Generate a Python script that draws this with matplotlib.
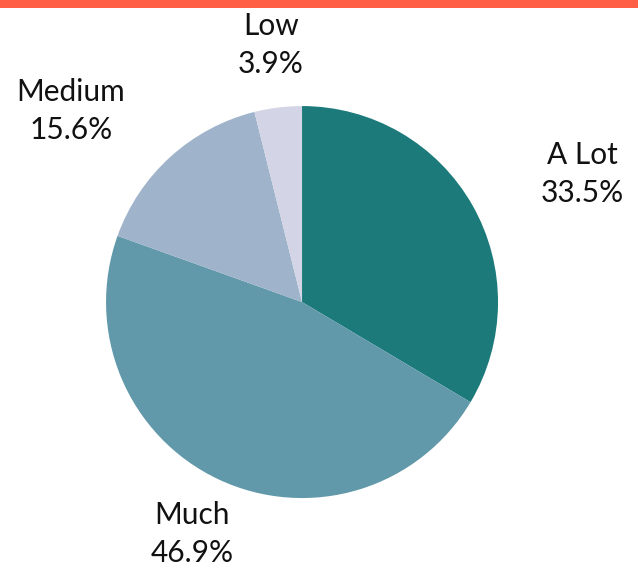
import matplotlib
matplotlib.use("Agg")
import matplotlib.pyplot as plt
from matplotlib.patches import Rectangle

labels = ["A Lot", "Much", "Medium", "Low"]
values = [33.5, 46.9, 15.6, 3.9]
colors = ["#1c7a7a", "#6199aa", "#9fb3cb", "#d3d4e6"]

# label centres, in pie radius units
label_pos = [(1.43, 0.655), (-0.56, -1.185), (-1.18, 0.975), (-0.16, 1.31)]

plt.rcParams['font.family'] = ['Lato', 'DejaVu Sans']

fig = plt.figure(figsize=(6.38, 5.69), dpi=100)
fig.add_artist(Rectangle((0, 1 - 8 / 569), 1, 8 / 569, transform=fig.transFigure,
                         color="#ff5f45", lw=0))

ax = fig.add_axes([0.1662, 0.1247, 0.6144, 0.6889])
ax.pie(values, colors=colors, startangle=90, counterclock=False,
       wedgeprops=dict(linewidth=0), radius=1)
ax.set_xlim(-1, 1)
ax.set_ylim(-1, 1)
ax.set_aspect('auto')

for lab, v, (x, y) in zip(labels, values, label_pos):
    ax.text(x, y, f"{lab}\n{v:.1f}%", ha='center', va='center', fontsize=21.5,
            linespacing=1.45, color="#111111", clip_on=False)

fig.savefig("out.png", dpi=100)
